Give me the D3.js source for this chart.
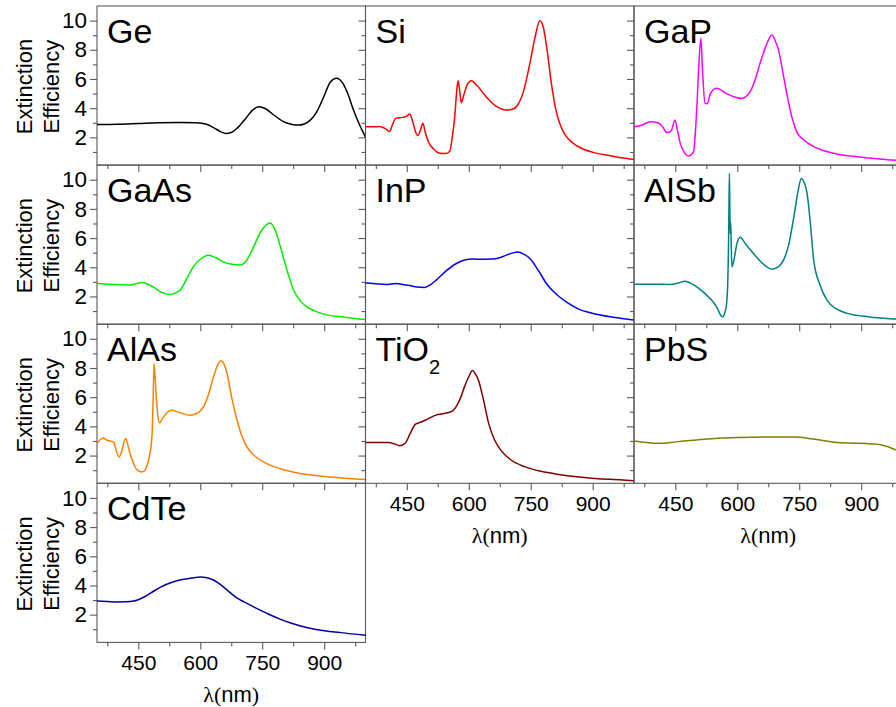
<!DOCTYPE html>
<html>
<head>
<meta charset="utf-8">
<script src="https://cdn.jsdelivr.net/npm/d3@7"></script>
<style>
  html, body { margin: 0; padding: 0; background: #fff; }
  svg { display: block; font-family: "Liberation Sans", Arial, sans-serif; }
</style>
</head>
<body>
<svg id="chart" width="896" height="707"></svg>
<script>
// Extinction efficiency spectra, [wavelength (nm), Q_ext]
const ge = [[350,2.88],[400,2.90],[450,2.95],[500,3.0],[550,3.02],[590,3.0],[615,2.9],[635,2.62],[650,2.38],[662,2.27],[675,2.33],[690,2.65],[710,3.3],[728,3.9],[742,4.1],[757,3.98],[775,3.6],[800,3.1],[820,2.9],[837,2.84],[852,2.92],[867,3.2],[882,3.75],[899,4.78],[915,5.8],[930,6.05],[944,5.75],[957,5.0],[970,3.95],[985,2.9],[1000,2.02]];
const si = [[350,2.73],[370,2.72],[384,2.75],[398,2.6],[408,2.4],[415,2.85],[423,3.3],[440,3.37],[450,3.45],[457,3.6],[465,3.0],[472,2.3],[477,2.12],[483,2.5],[489,2.96],[495,2.3],[503,1.65],[515,1.2],[529,0.92],[545,0.9],[554,1.05],[560,2.0],[566,3.4],[571,5.2],[574,5.88],[578,5.2],[582,4.37],[588,4.9],[596,5.6],[606,5.88],[620,5.55],[642,4.78],[665,4.15],[691,3.87],[705,3.92],[718,4.2],[733,5.2],[748,7.07],[760,8.8],[772,9.99],[780,9.6],[788,8.3],[800,5.7],[810,4.0],[820,2.96],[835,2.1],[853,1.59],[875,1.22],[901,0.97],[940,0.75],[970,0.6],[1000,0.49]];
const gap = [[350,2.72],[370,2.85],[389,3.07],[409,2.98],[420,2.7],[429,2.33],[440,2.45],[449,3.19],[455,2.5],[462,1.59],[472,0.95],[482,0.72],[494,1.0],[499,2.5],[503,4.56],[508,7.5],[512,8.79],[516,6.5],[522,4.33],[527,4.3],[535,5.0],[550,5.36],[574,5.0],[595,4.75],[611,4.67],[631,5.13],[645,6.1],[655,7.07],[670,8.3],[684,9.01],[692,8.6],[700,7.98],[710,6.5],[720,5.0],[732,3.4],[744,2.38],[760,1.85],[785,1.36],[810,1.08],[841,0.86],[880,0.7],[920,0.58],[963,0.47],[1000,0.4]];
const gaas = [[350,2.89],[390,2.82],[430,2.78],[445,2.88],[458,2.96],[472,2.85],[486,2.66],[505,2.3],[527,2.14],[540,2.25],[551,2.43],[567,3.2],[583,4.03],[600,4.55],[620,4.83],[638,4.65],[656,4.37],[677,4.2],[697,4.15],[713,4.5],[729,5.4],[748,6.5],[769,7.03],[782,6.5],[794,5.4],[810,3.8],[826,2.43],[842,1.7],[858,1.29],[878,1.0],[899,0.79],[950,0.58],[1000,0.42]];
const inp = [[350,2.93],[375,2.87],[400,2.82],[424,2.89],[440,2.82],[457,2.75],[475,2.65],[493,2.62],[507,2.8],[521,3.12],[545,3.75],[570,4.26],[590,4.5],[610,4.56],[635,4.55],[659,4.56],[676,4.67],[691,4.83],[705,4.97],[719,5.04],[733,4.9],[748,4.6],[768,3.8],[788,2.89],[810,2.2],[836,1.63],[865,1.15],[901,0.84],[950,0.58],[1000,0.38]];
const alsb = [[350,2.84],[397,2.84],[437,2.82],[455,2.9],[474,3.05],[488,2.9],[502,2.66],[518,2.3],[534,1.86],[545,1.5],[554,1.06],[560,0.7],[565,0.6],[570,0.9],[574,1.47],[577,3.0],[579,5.9],[580,8.5],[581,10.43],[582,8.0],[583,6.3],[584,7.1],[585,6.0],[587,4.03],[592,4.5],[599,5.6],[607,6.06],[620,5.6],[639,4.95],[660,4.3],[684,3.87],[700,4.05],[712,4.49],[725,5.6],[737,7.46],[747,9.2],[755,10.09],[762,9.8],[769,9.06],[777,7.0],[785,4.49],[800,2.8],[817,1.75],[840,1.15],[866,0.84],[920,0.6],[985,0.45],[1000,0.42]];
const alas = [[350,2.82],[358,3.1],[365,3.21],[374,3.05],[382,3.0],[390,2.93],[397,2.3],[403,1.91],[410,2.3],[416,3.0],[420,3.17],[425,2.7],[430,2.14],[438,1.5],[446,1.04],[458,0.88],[465,0.95],[470,1.22],[477,2.0],[483,3.28],[486,6.0],[488,8.3],[490,7.6],[493,6.25],[497,4.8],[501,4.24],[510,4.6],[520,4.95],[531,5.1],[550,4.95],[575,4.76],[592,4.9],[608,5.33],[620,6.2],[632,7.39],[642,8.2],[650,8.49],[657,8.3],[664,7.73],[676,6.0],[689,4.42],[700,3.4],[713,2.59],[735,1.9],[761,1.45],[800,1.05],[842,0.77],[900,0.57],[950,0.45],[1000,0.36]];
const tio2 = [[350,2.89],[380,2.89],[405,2.89],[420,2.8],[433,2.68],[446,2.84],[458,3.5],[471,4.15],[485,4.3],[500,4.5],[520,4.77],[545,4.91],[560,5.05],[570,5.37],[580,5.95],[590,6.74],[600,7.4],[609,7.82],[616,7.6],[623,7.2],[635,5.9],[648,4.22],[662,3.1],[677,2.39],[700,1.75],[735,1.24],[775,0.92],[817,0.71],[880,0.5],[940,0.37],[1000,0.28]];
const pbs = [[350,3.0],[380,2.9],[404,2.84],[440,2.9],[470,3.0],[510,3.1],[553,3.19],[600,3.24],[635,3.26],[700,3.27],[751,3.26],[780,3.15],[800,3.07],[841,2.89],[880,2.85],[924,2.8],[949,2.73],[965,2.6],[980,2.43],[1000,2.2]];
const cdte = [[350,2.93],[375,2.9],[399,2.87],[420,2.88],[439,2.93],[464,3.21],[485,3.57],[504,3.89],[530,4.2],[553,4.39],[580,4.52],[601,4.58],[625,4.46],[645,4.15],[666,3.66],[686,3.2],[706,2.87],[735,2.45],[763,2.07],[790,1.73],[819,1.43],[850,1.17],[884,0.97],[940,0.77],[1000,0.59]];

const materials = ["Ge", "Si", "GaP", "GaAs", "InP", "AlSb", "AlAs", "TiO2", "PbS", "CdTe"];
const spectra = [ge, si, gap, gaas, inp, alsb, alas, tio2, pbs, cdte];

const xMajorTicks = [450, 600, 750, 900];
const xMinorTicks = [375, 525, 675, 825, 975];
const yMajorTicks = [2, 4, 6, 8, 10];
const yMinorTicks = [1, 3, 5, 7, 9];
const xDomain = [350, 1000];
const yDomain = [0.1, 11];

const yTitleLines = ["Extinction", "Efficiency"];

// line colours per material
const colors = {
  Ge: "#000000", Si: "#ff0000", GaP: "#ff00ff", GaAs: "#00ee00", InP: "#0000ff",
  AlSb: "#008080", AlAs: "#ff8000", TiO2: "#800000", PbS: "#808000", CdTe: "#0000a0"
};

// grid geometry
const left0 = 97, top0 = 6, W = 268.5, H = 159.1, nCols = 3;
const frameColor = "#5a5a5a";
const sans = "'Liberation Sans', Arial, sans-serif";
const serif = "'Liberation Serif', 'Times New Roman', serif";

const svg = d3.select("#chart");
svg.append("rect").attr("width", 896).attr("height", 707).attr("fill", "#fff");

const x = d3.scaleLinear().domain(xDomain).range([0, W]);
const y = d3.scaleLinear().domain(yDomain).range([H, 0]);

const line = d3.line()
  .x(d => x(d[0]))
  .y(d => y(d[1]))
  .curve(d3.curveMonotoneX);

const nPanels = materials.length;

materials.forEach((name, i) => {
  const col = i % nCols, row = Math.floor(i / nCols);
  const g = svg.append("g")
    .attr("transform", `translate(${left0 + col * W},${top0 + row * H})`);

  const isFirstCol = col === 0;
  const isBottom = (i + nCols) >= nPanels;

  // frame
  g.append("rect")
    .attr("width", W).attr("height", H)
    .attr("fill", "none")
    .attr("stroke", frameColor)
    .attr("stroke-width", 1.1);

  // left axis: major and minor ticks
  const yMaj = g.append("g").call(
    d3.axisLeft(y).tickValues(yMajorTicks).tickSize(7).tickPadding(3)
      .tickFormat(isFirstCol ? d3.format("d") : () => ""));
  const yMin = g.append("g").call(
    d3.axisLeft(y).tickValues(yMinorTicks).tickSize(4).tickFormat(() => ""));

  // bottom axis: major and minor ticks
  const xMaj = g.append("g").attr("transform", `translate(0,${H})`).call(
    d3.axisBottom(x).tickValues(xMajorTicks).tickSize(7).tickPadding(6)
      .tickFormat(isBottom ? d3.format("d") : () => ""));
  const xMin = g.append("g").attr("transform", `translate(0,${H})`).call(
    d3.axisBottom(x).tickValues(xMinorTicks).tickSize(4).tickFormat(() => ""));

  [yMaj, yMin, xMaj, xMin].forEach(a => {
    a.select(".domain").remove();
    a.selectAll("line").attr("stroke", frameColor).attr("stroke-width", 1.1);
    a.selectAll("text")
      .attr("fill", "#000")
      .style("font-family", sans);
  });
  yMaj.selectAll("text").style("font-size", "22.5px");
  xMaj.selectAll("text").style("font-size", "21px");

  // spectrum
  g.append("path")
    .datum(spectra[i])
    .attr("fill", "none")
    .attr("stroke", colors[name])
    .attr("stroke-width", 1.5)
    .attr("stroke-linejoin", "round")
    .attr("d", line);

  // material label
  const label = g.append("text")
    .attr("x", 10).attr("y", 37)
    .attr("font-size", 34)
    .attr("fill", "#000");
  const m = name.match(/^([A-Za-z]+)(\d*)$/);
  label.append("tspan").text(m[1]);
  if (m[2]) {
    label.append("tspan").attr("font-size", 20).attr("dy", 13).text(m[2]);
  }

  // y title on the first column
  if (isFirstCol) {
    yTitleLines.forEach((t, k) => {
      svg.append("text")
        .attr("transform", `translate(${32 + k * 27},${top0 + row * H + H / 2 + 1}) rotate(-90)`)
        .attr("text-anchor", "middle")
        .attr("font-size", 22)
        .attr("fill", "#000")
        .text(t);
    });
  }

  // x title under the lowest panel of each column
  if (isBottom) {
    const t = g.append("text")
      .attr("x", W / 2).attr("y", H + 60)
      .attr("text-anchor", "middle")
      .attr("font-size", 22)
      .attr("fill", "#000");
    t.append("tspan").style("font-family", serif).text("\u03bb(");
    t.append("tspan").text("nm");
    t.append("tspan").style("font-family", serif).text(")");
  }
});
</script>
</body>
</html>
